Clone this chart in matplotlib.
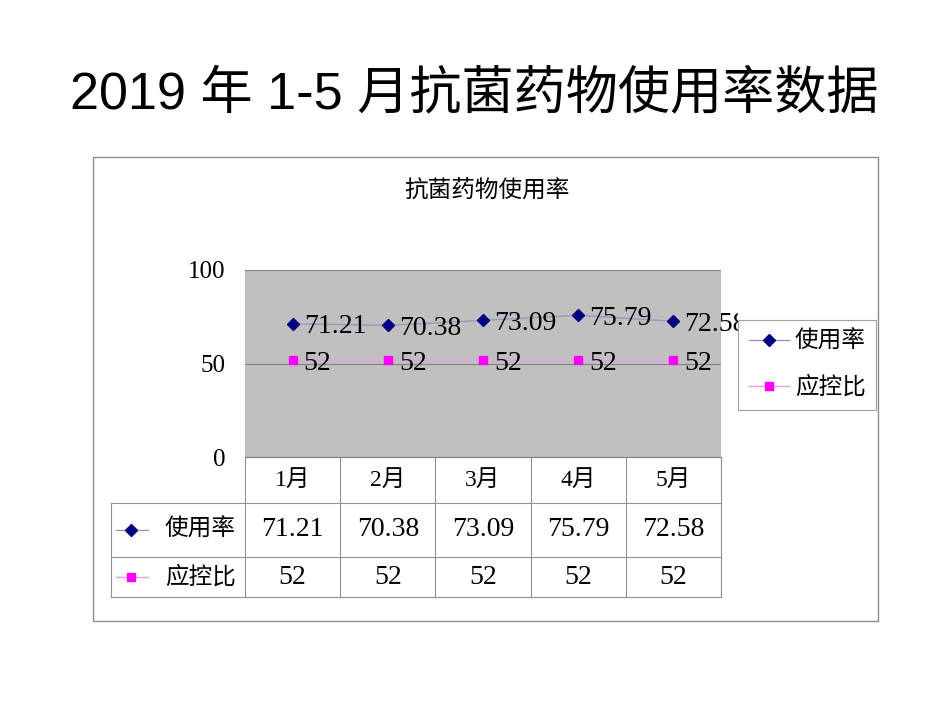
import matplotlib
matplotlib.use("Agg")
import matplotlib.pyplot as plt
from matplotlib.lines import Line2D
from matplotlib.transforms import Bbox

months = ["1月", "2月", "3月", "4月", "5月"]
usage = [71.21, 70.38, 73.09, 75.79, 72.58]
target = [52, 52, 52, 52, 52]
series_names = ["使用率", "应控比"]
usage_labels = ["71.21", "70.38", "73.09", "75.79", "72.58"]
target_labels = ["52", "52", "52", "52", "52"]

W, H = 950, 713
fig = plt.figure(figsize=(W / 100, H / 100), dpi=100)

serif = ["Liberation Serif", "Noto Sans CJK SC"]
sans = ["Liberation Sans", "Noto Sans CJK SC"]

# overlay axes in pixel coordinates for frame, titles and table
ov = fig.add_axes([0, 0, 1, 1])
ov.set_xlim(0, W)
ov.set_ylim(H, 0)
ov.axis("off")

ov.text(474, 95, "2019 年 1-5 月抗菌药物使用率数据", ha="center", va="center",
        fontsize=37.5, family=sans)
ov.add_patch(plt.Rectangle((93, 157), 785, 464, fill=False, ec="#8c8c8c", lw=1))
ov.text(487, 192, "抗菌药物使用率", ha="center", va="center", fontsize=17, family=serif)

# plot area
x0, x1, ytop, ybot = 245, 721, 270, 457
ax = fig.add_axes([x0 / W, (H - ybot) / H, (x1 - x0) / W, (ybot - ytop) / H])
ax.set_facecolor("#c0c0c0")
ax.set_xlim(-0.5, len(months) - 0.5)
ax.set_ylim(0, 100)
ax.set_yticks([0, 50, 100])
ax.set_xticks([])
ax.yaxis.grid(True, color="#808080", lw=0.8)
ax.set_axisbelow(True)
for s in ["top", "right", "left"]:
    ax.spines[s].set_visible(False)
ax.spines["bottom"].set_color("#808080")
ax.tick_params(axis="y", length=0, pad=14, labelsize=18)
for lab in ax.get_yticklabels():
    lab.set_family(serif)

xs = list(range(len(months)))
ax.plot(xs, usage, color="#9999bb", lw=1, marker="D", ms=6,
        mfc="#000080", mec="#000080", label=series_names[0])
ax.plot(xs, target, color="#ee99ee", lw=1, marker="s", ms=6,
        mfc="#ff00ff", mec="#ff00ff", label=series_names[1])

# labels are cut off where the legend box begins
label_clip = Bbox.from_extents(0, 0, 738, H)
for x, y, t in zip(xs, usage, usage_labels):
    a = ax.annotate(t, (x, y), xytext=(8, -2), textcoords="offset points",
                    ha="left", va="center", fontsize=20, family=serif,
                    annotation_clip=False)
    a.set_clip_box(label_clip)
    a.set_clip_on(True)
for x, y, t in zip(xs, target, target_labels):
    a = ax.annotate(t, (x, y), xytext=(8, -3), textcoords="offset points",
                    ha="left", va="center", fontsize=20, family=serif,
                    annotation_clip=False)
    a.set_clip_box(label_clip)
    a.set_clip_on(True)

# legend
leg = ov.legend(handles=[
    Line2D([], [], color="#9999bb", lw=1, marker="D", ms=6, mfc="#000080", mec="#000080"),
    Line2D([], [], color="#ee99ee", lw=1, marker="s", ms=6, mfc="#ff00ff", mec="#ff00ff")],
    labels=series_names, loc="upper left", bbox_to_anchor=(738 / W, 1 - 320 / H),
    bbox_transform=fig.transFigure, frameon=True, fancybox=False, edgecolor="#a0a0a0",
    framealpha=1, prop={"family": serif, "size": 17}, handlelength=1.7, borderpad=0.45,
    labelspacing=1.0, handletextpad=0.25, borderaxespad=0)
leg.get_frame().set_linewidth(0.8)
leg.set_zorder(10)

# data table under the plot
col_w = (x1 - x0) / len(months)
rows = [457, 503, 557, 597]
gc = "#909090"
for i in range(len(months) + 1):
    xv = x0 + i * col_w
    ov.plot([xv, xv], [rows[0], rows[3]], color=gc, lw=0.8)
ov.plot([111, 111], [rows[1], rows[3]], color=gc, lw=0.8)
for yv in rows[1:]:
    ov.plot([111, x1], [yv, yv], color=gc, lw=0.8)

for i, m in enumerate(months):
    cx = x0 + (i + 0.5) * col_w
    ov.text(cx, (rows[0] + rows[1]) / 2, m, ha="center", va="center", fontsize=17, family=serif)
    ov.text(cx, (rows[1] + rows[2]) / 2, usage_labels[i], ha="center", va="center",
            fontsize=20, family=serif)
    ov.text(cx, (rows[2] + rows[3]) / 2, target_labels[i], ha="center", va="center",
            fontsize=20, family=serif)

for r, (name, col, mcol, mk) in enumerate([(series_names[0], "#9999bb", "#000080", "D"),
                                           (series_names[1], "#ee99ee", "#ff00ff", "s")]):
    yc = (rows[1 + r] + rows[2 + r]) / 2
    ov.plot([116, 148], [yc, yc], color=col, lw=1)
    ov.plot([131], [yc], marker=mk, ms=6, color=mcol)
    ov.text(165, yc, name, ha="left", va="center", fontsize=17, family=serif)

fig.savefig("out.png", dpi=100)
